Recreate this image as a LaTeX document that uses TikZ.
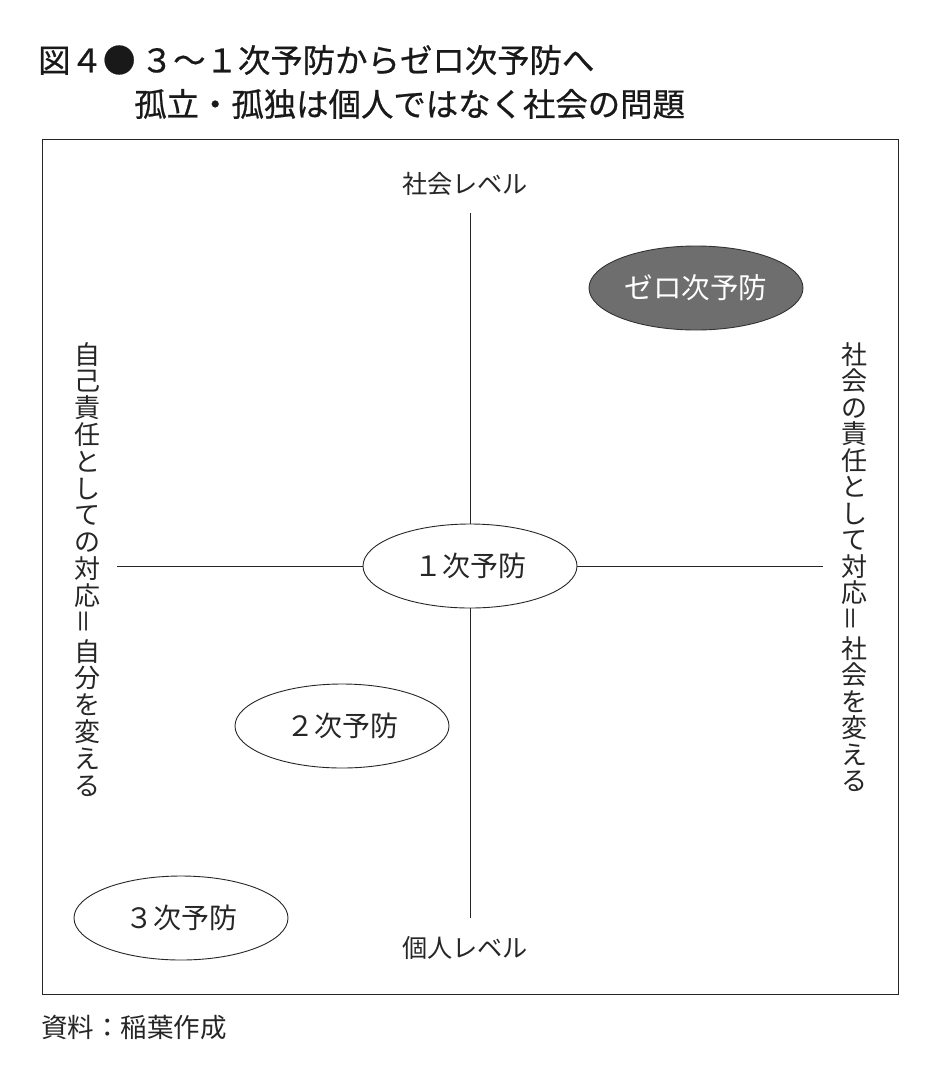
\documentclass[tikz,border=0pt]{standalone}
\usepackage{fontspec}
\usepackage{graphicx}
\newfontfamily\jp{Noto Sans CJK JP}
\newfontfamily\jpb[FakeBold=0.6]{Noto Sans CJK JP}
\usetikzlibrary{shapes.geometric}
\tikzset{
  lbl/.style={font=\jp\fontsize{25.2}{28}\selectfont, text=black!85, inner sep=0},
  vlbl/.style={font=\jp\fontsize{26}{26.8}\selectfont, text=black!85, inner sep=0, align=center},
  ttl/.style={font=\jpb\fontsize{32.4}{38}\selectfont, text=black!90, inner sep=0, anchor=west},
  oval/.style={ellipse, draw=black!85, line width=0.9pt, minimum width=214pt, minimum height=84pt, inner sep=0, font=\jp\fontsize{28}{32}\selectfont, text=black!85},
  axis/.style={draw=black!85, line width=0.9pt}
}
\newcommand{\vbar}{\rotatebox{90}{＝}}
\begin{document}
\begin{tikzpicture}[x=1pt,y=-1pt]
\useasboundingbox (0,0) rectangle (926,1079);
\fill[white] (0,0) rectangle (926,1079);
% title
\node[ttl] (t1) at (38,60) {図４●\,３～１次予防からゼロ次予防へ};
\node[ttl] (t2) at (134,104) {孤立・孤独は個人ではなく社会の問題};
% frame
\draw[draw=black!85, line width=1pt] (42,139) rectangle (898,994);
% ellipses
\node[oval] (p1) at (470,566) {１次予防};
\node[oval, fill=black!57, draw=black!80, text=white, font=\jp\fontsize{28.5}{32}\selectfont] (p0) at (696,288) {ゼロ次予防};
\node[oval] (p2) at (342,726) {２次予防};
\node[oval] (p3) at (181,918) {３次予防};
% axes
\coordinate (top) at (470,213);
\coordinate (bot) at (470,918);
\coordinate (lft) at (117,566);
\coordinate (rgt) at (823,566);
\draw[axis] (top) -- (p1.north);
\draw[axis] (p1.south) -- (bot);
\draw[axis] (lft) -- (p1.west);
\draw[axis] (p1.east) -- (rgt);
% axis labels
\node[lbl] (soc) at (465,184) {社会レベル};
\node[lbl] (ind) at (465,948) {個人レベル};
\node[vlbl, anchor=north] (lv) at (87,342) {自\\己\\責\\任\\と\\し\\て\\の\\対\\応\\\vbar\\自\\分\\を\\変\\え\\る};
\node[vlbl, font=\jp\fontsize{26}{26.5}\selectfont, anchor=north] (rv) at (854,342) {社\\会\\の\\責\\任\\と\\し\\て\\対\\応\\\vbar\\社\\会\\を\\変\\え\\る};
% source
\node[lbl, font=\jp\fontsize{26.5}{30}\selectfont, anchor=west] (src) at (41,1028) {資料：稲葉作成};
\end{tikzpicture}
\end{document}
